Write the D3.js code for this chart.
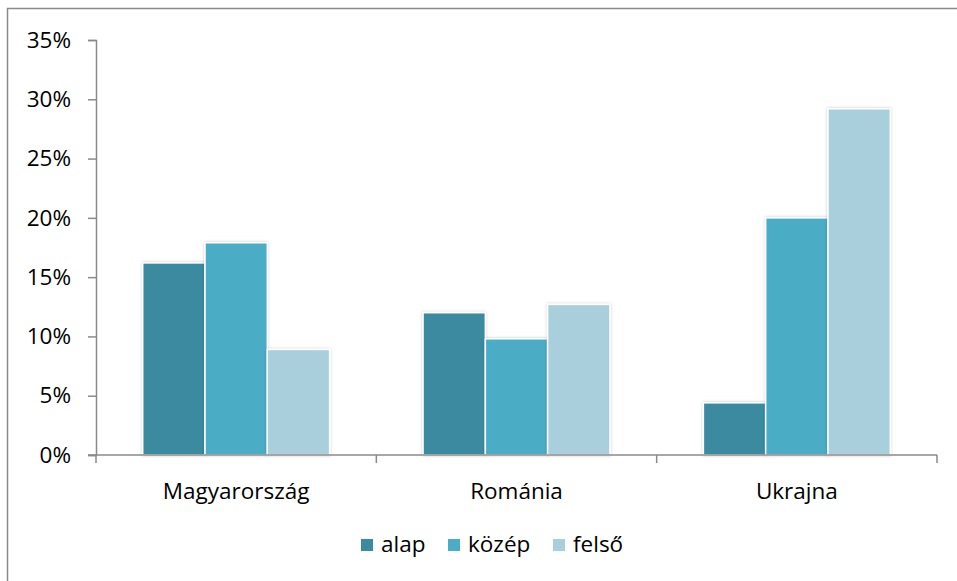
<!DOCTYPE html>
<html><head><meta charset="utf-8">
<script src="https://cdn.jsdelivr.net/npm/d3@7"></script>
<style>body{margin:0;background:#fff;} svg{display:block;}</style>
</head><body>
<svg id="c" width="957" height="581"></svg>
<script>
const categories = ["Magyarország", "Románia", "Ukrajna"];
const seriesNames = ["alap", "közép", "felső"];
const alap = [0.162, 0.12, 0.044];
const kozep = [0.179, 0.098, 0.20];
const felso = [0.089, 0.127, 0.292];
const yTicks = [0, 0.05, 0.10, 0.15, 0.20, 0.25, 0.30, 0.35];
const colors = ["#3b8aa0", "#4bacc6", "#a9cedc"];

(function(){
const values = [alap, kozep, felso];
const svg = d3.select("#c");
const font = "'Open Sans', sans-serif";
const fs = 22.5;
const defs = svg.append("defs");
const f = defs.append("filter").attr("id","sh").attr("x","-20%").attr("y","-10%").attr("width","140%").attr("height","120%");
f.append("feDropShadow").attr("dx",0).attr("dy",0).attr("stdDeviation",1.6).attr("flood-color","#000").attr("flood-opacity",0.22);

svg.append("rect").attr("x",7.5).attr("y",8.5).attr("width",980).attr("height",600)
  .attr("fill","none").attr("stroke","#8a8a8a").attr("stroke-width",1.5);

const mLeft = 96, mRight = 937, mTop = 40, mBottom = 455;
const x0 = d3.scaleBand().domain(categories).range([mLeft, mRight]).paddingInner(0).paddingOuter(0);
const x1 = d3.scaleBand().domain(seriesNames).range([0, x0.bandwidth()]).paddingInner(0).paddingOuter(0.75);
const y = d3.scaleLinear().domain([0, 0.35]).range([mBottom, mTop]);

const g = svg.append("g");
categories.forEach((c, ci) => {
  seriesNames.forEach((s, si) => {
    const v = values[si][ci];
    g.append("rect")
      .attr("x", x0(c) + x1(s)).attr("y", y(v))
      .attr("width", x1.bandwidth()).attr("height", y(0) - y(v))
      .attr("fill", colors[si]).attr("stroke", "#fff").attr("stroke-width", 1.5)
      .attr("filter", "url(#sh)");
  });
});

// y axis
const ya = svg.append("g").attr("transform", `translate(${mLeft},0)`)
  .call(d3.axisLeft(y).tickValues(yTicks).tickFormat(d3.format(".0%")).tickSize(8).tickPadding(17));
ya.select(".domain").attr("stroke","#8a8a8a").attr("stroke-width",1.5);
ya.selectAll(".tick line").attr("stroke","#8a8a8a").attr("stroke-width",1.5);
ya.selectAll(".tick text").attr("font-family",font).attr("font-size",fs).attr("fill","#000");

// x axis
const xa = svg.append("g").attr("transform", `translate(0,${mBottom})`)
  .call(d3.axisBottom(x0).tickSize(0).tickPadding(28));
xa.select(".domain").remove();
xa.selectAll(".tick text").attr("font-family",font).attr("font-size",fs).attr("fill","#000");
svg.append("line").attr("x1",mLeft-8).attr("x2",mRight).attr("y1",mBottom).attr("y2",mBottom)
  .attr("stroke","#8a8a8a").attr("stroke-width",1.5);
const bounds = [mLeft, ...categories.map(c => x0(c) + x0.bandwidth())];
svg.selectAll(".xt").data(bounds).enter().append("line")
  .attr("x1", d => d).attr("x2", d => d).attr("y1", mBottom).attr("y2", mBottom + 8)
  .attr("stroke","#8a8a8a").attr("stroke-width",1.5);

// legend
const legX = [361, 448, 553];
const lg = svg.append("g");
seriesNames.forEach((s, i) => {
  lg.append("rect").attr("x", legX[i]).attr("y", 539).attr("width", 12).attr("height", 12).attr("fill", colors[i]);
  lg.append("text").attr("x", legX[i] + 20).attr("y", 552).text(s)
    .attr("font-family", font).attr("font-size", fs).attr("fill", "#000");
});
})();
</script>
</body></html>
